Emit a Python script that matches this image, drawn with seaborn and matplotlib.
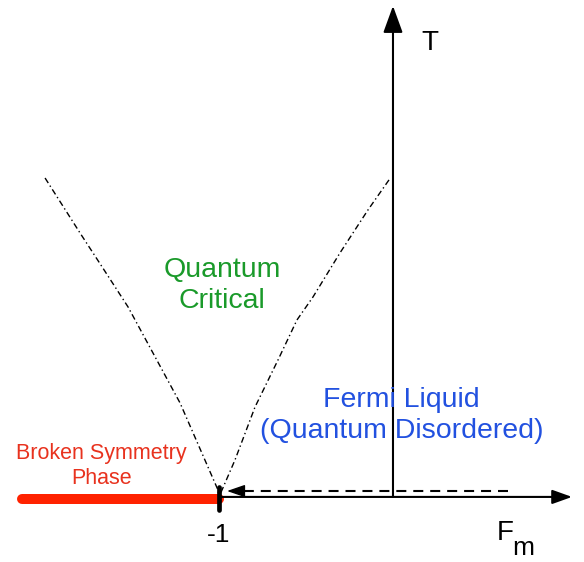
import matplotlib
matplotlib.use('Agg')
import matplotlib.pyplot as plt
import pandas as pd
import seaborn as sns

# crossover lines (F_m, T), both ending at the critical point F_m = -1
left_F = [-2.000, -1.799, -1.672, -1.523, -1.224, -1.006, -1.0]
left_T = [1.833, 1.517, 1.322, 1.092, 0.540, 0.040, 0.0]
right_F = [-0.023, -0.144, -0.305, -0.460, -0.552, -0.661, -0.793, -0.908, -1.0]
right_T = [1.822, 1.649, 1.402, 1.149, 1.017, 0.787, 0.517, 0.213, 0.0]

# broken symmetry segment on the F_m axis
broken_F = [-2.13, -1.0]
broken_T = [-0.01, -0.01]

# dashed arrow (Fermi liquid approaching the critical point)
dash_F = [0.661, -0.87]
dash_head_F = -0.954
dash_T = 0.034

# axes ends
x_axis = (-1.0, 1.029)
t_top = 2.822
crit_F = -1.0

labels = ['Quantum\nCritical', 'Fermi Liquid\n(Quantum Disordered)', 'Broken Symmetry\nPhase']
label_F = [-0.983, 0.05, -1.678]
label_T = [1.218, 0.466, 0.178]
label_colors = ['#1a9a2a', '#2251e0', '#e8321e']
label_sizes = [20.5, 20.5, 15.5]

sns.set_theme(style='white')
plt.rcParams['font.family'] = ['Liberation Sans', 'DejaVu Sans']
plt.rcParams['lines.scale_dashes'] = False

fig = plt.figure(figsize=(5.84, 5.62), dpi=100)
ax = fig.add_axes([0, 0, 1, 1])
ax.set_xlim(-2.259, 1.098)
ax.set_ylim(-0.374, 2.856)
ax.axis('off')

# dash-dot crossover lines
left = pd.DataFrame({'F': left_F, 'T': left_T})
right = pd.DataFrame({'F': right_F, 'T': right_T})
for d in (left, right):
    sns.lineplot(data=d, x='F', y='T', sort=False, ax=ax, color='black', lw=1.0,
                 dashes=False, estimator=None)
for ln in ax.lines:
    ln.set_dashes((4.3, 2.2, 1.0, 2.2))

# axes with arrowheads
ax.annotate('', xy=(x_axis[1], 0), xytext=(x_axis[0], 0),
            arrowprops=dict(arrowstyle='-|>,head_length=12,head_width=4.3', mutation_scale=1,
                            lw=1.5, color='black', shrinkA=0, shrinkB=0))
ax.annotate('', xy=(0, t_top), xytext=(0, 0),
            arrowprops=dict(arrowstyle='-|>,head_length=16.5,head_width=6', mutation_scale=1,
                            lw=1.5, color='black', shrinkA=0, shrinkB=0))

# dashed arrow
sns.lineplot(x=dash_F, y=[dash_T, dash_T], ax=ax, color='black', lw=1.5, sort=False,
             estimator=None)
ax.lines[-1].set_dashes((7.2, 5.0))
ax.annotate('', xy=(dash_head_F, dash_T), xytext=(dash_F[1], dash_T),
            arrowprops=dict(arrowstyle='-|>,head_length=11,head_width=3.8', mutation_scale=1,
                            lw=1.0, color='black', shrinkA=0, shrinkB=0))

# broken symmetry phase
sns.lineplot(x=broken_F, y=broken_T, ax=ax, color='#ff2200', lw=7.2, sort=False,
             estimator=None)
ax.lines[-1].set_solid_capstyle('round')

# critical point tick
ax.plot([crit_F, crit_F], [0.057, -0.075], color='black', lw=3.4, solid_capstyle='round')

for txt, f, t, c, s in zip(labels, label_F, label_T, label_colors, label_sizes):
    ax.text(f, t, txt, color=c, fontsize=s, ha='center', va='center', linespacing=1.25)

ax.text(-1.0, -0.218, '-1', fontsize=19, ha='center', va='center', color='black')
ax.text(0.213, 2.609, 'T', fontsize=20, ha='center', va='center', color='black')
ax.text(0.644, -0.207, 'F', fontsize=20, ha='center', va='center', color='black')
ax.text(0.747, -0.333, 'm', fontsize=19, ha='center', va='baseline', color='black')

fig.savefig('out.png', dpi=100)
